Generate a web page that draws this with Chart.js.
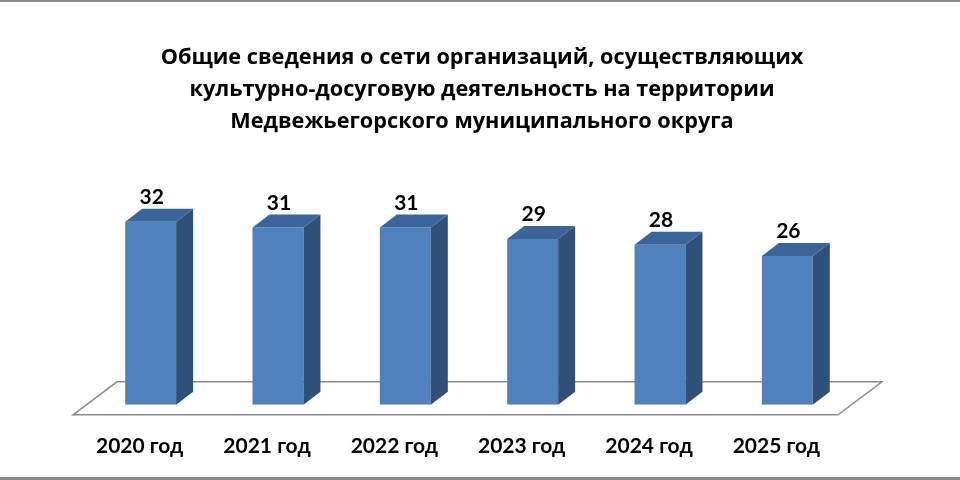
<!DOCTYPE html>
<html>
<head>
<meta charset="utf-8">
<script src="https://cdn.jsdelivr.net/npm/chart.js@4"></script>
<style>
  html, body { margin: 0; padding: 0; background: #fff; }
  #wrap { width: 960px; height: 480px; position: relative; }
</style>
</head>
<body>
<div id="wrap"><canvas id="myChart" width="960" height="480"></canvas></div>
<script>
const titleLines = [
  "Общие сведения о сети организаций, осуществляющих",
  "культурно-досуговую деятельность на территории",
  "Медвежьегорского муниципального округа"
];
const years = ["2020 год", "2021 год", "2022 год", "2023 год", "2024 год", "2025 год"];
const orgCount = [32, 31, 31, 29, 28, 26];

const FRONT = "#4f81bd";
const TOP = "#3b6598";
const SIDE = "#2f5179";
const DEPTH_X = 17, DEPTH_Y = 13;

// floor, title and frame
const floorPlugin = {
  id: "floor",
  beforeDatasetsDraw(chart) {
    const { ctx, chartArea: a } = chart;
    ctx.save();
    ctx.beginPath();
    ctx.moveTo(a.left - 14, a.bottom + 10);
    ctx.lineTo(a.left + 30, a.bottom - 23);
    ctx.lineTo(a.right + 31, a.bottom - 23);
    ctx.lineTo(a.right - 13, a.bottom + 10);
    ctx.closePath();
    ctx.fillStyle = "#ffffff";
    ctx.fill();
    ctx.strokeStyle = "#8c8c8c";
    ctx.lineWidth = 1.5;
    ctx.stroke();
    ctx.restore();
  },
  afterDraw(chart) {
    const ctx = chart.ctx;
    ctx.save();
    ctx.fillStyle = "#000";
    ctx.font = "bold 21.7px 'Open Sans'";
    ctx.textAlign = "center";
    ctx.textBaseline = "alphabetic";
    titleLines.forEach((t, i) => ctx.fillText(t, 482, 64 + i * 31.8));
    ctx.fillStyle = "#8a8a8a";
    ctx.fillRect(0, 0, 960, 2);
    ctx.fillRect(0, 477, 960, 3);
    ctx.restore();
  }
};

// side and top faces plus value labels
const boxPlugin = {
  id: "box3d",
  afterDatasetsDraw(chart) {
    const ctx = chart.ctx;
    const meta = chart.getDatasetMeta(0);
    ctx.save();
    meta.data.forEach((bar, i) => {
      const p = bar.getProps(["x", "y", "base", "width"], true);
      const l = p.x - p.width / 2, r = p.x + p.width / 2;
      ctx.fillStyle = SIDE;
      ctx.beginPath();
      ctx.moveTo(r, p.y);
      ctx.lineTo(r + DEPTH_X, p.y - DEPTH_Y);
      ctx.lineTo(r + DEPTH_X, p.base - DEPTH_Y);
      ctx.lineTo(r, p.base);
      ctx.closePath();
      ctx.fill();
      ctx.fillStyle = TOP;
      ctx.beginPath();
      ctx.moveTo(l, p.y);
      ctx.lineTo(l + DEPTH_X, p.y - DEPTH_Y);
      ctx.lineTo(r + DEPTH_X, p.y - DEPTH_Y);
      ctx.lineTo(r, p.y);
      ctx.closePath();
      ctx.fill();
      ctx.fillStyle = "#000";
      ctx.font = "bold 21px Lato";
      ctx.textAlign = "center";
      ctx.textBaseline = "bottom";
      ctx.fillText(String(orgCount[i]), p.x + 1, p.y - DEPTH_Y - 1);
    });
    ctx.restore();
  }
};

new Chart(document.getElementById("myChart"), {
  type: "bar",
  data: {
    labels: years,
    datasets: [{
      data: orgCount,
      backgroundColor: FRONT,
      borderWidth: 0,
      barPercentage: 0.4,
      categoryPercentage: 1.0
    }]
  },
  options: {
    responsive: false,
    animation: false,
    events: [],
    layout: { padding: { left: 87, right: 109, top: 176, bottom: -8 } },
    plugins: {
      legend: { display: false },
      tooltip: { enabled: false },
      title: { display: false }
    },
    scales: {
      x: {
        grid: { display: false, drawTicks: false },
        border: { display: false },
        ticks: {
          color: "#000",
          font: { family: "Lato", size: 21, weight: "bold", lineHeight: 1.2 },
          padding: 29,
          labelOffset: -11
        }
      },
      y: { display: false, min: 0, max: 40 }
    }
  },
  plugins: [floorPlugin, boxPlugin]
});
</script>
</body>
</html>
